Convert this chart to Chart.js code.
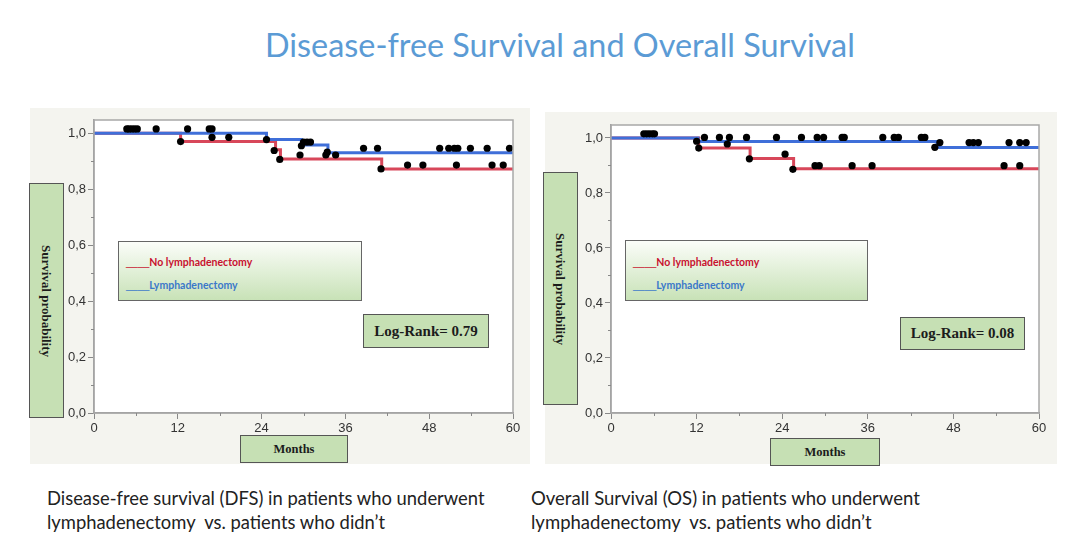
<!DOCTYPE html>
<html>
<head>
<meta charset="utf-8">
<script src="https://cdn.jsdelivr.net/npm/chart.js@4.4.0/dist/chart.umd.min.js"></script>
<style>
body{margin:0;width:1080px;height:549px;background:#fff;position:relative;overflow:hidden;font-family:Lato,"Noto Sans",sans-serif}
.panel{position:absolute;background:#f4f4ef}
.fit{position:absolute;white-space:nowrap;line-height:1}
.green{position:absolute;background:#c6e0b4;border:1px solid #555;box-sizing:border-box;display:flex;align-items:center;justify-content:center;font-family:"Liberation Serif","Times New Roman",serif;font-weight:bold;color:#1c1c1c;font-size:12.5px}
.vlab span{display:block;transform:rotate(90deg);white-space:nowrap;font-size:13px}
.lr{font-size:15px}
.legend{position:absolute;border:1px solid #666;box-sizing:border-box;background:linear-gradient(#fbfdf9,#c8e2b7);font-weight:bold;font-size:10.5px;line-height:1}
.legend div{position:absolute;left:7px;white-space:nowrap}
.legend i{font-style:normal;font-weight:normal;font-family:"Liberation Sans",Arial,sans-serif;font-size:10.5px}
.red{color:#c8102e}
.blue{color:#3b78c9}
.cap{position:absolute;color:#222;font-size:17px;line-height:24px;white-space:nowrap}
</style>
</head>
<body>
<div id="title" class="fit" style="left:265px;top:29px;color:#5b9bd5;font-size:30px">Disease-free Survival and Overall Survival</div>

<div class="panel" style="left:30px;top:108px;width:500px;height:356px"><canvas id="dfs"></canvas></div>
<div class="panel" style="left:545px;top:112px;width:512px;height:352px"><canvas id="os"></canvas></div>

<div class="green vlab" style="left:29px;top:183px;width:35px;height:235px"><span>Survival probability</span></div>
<div class="green vlab" style="left:543px;top:172px;width:35px;height:233px"><span>Survival probability</span></div>
<div class="green" style="left:240px;top:435px;width:108px;height:28px">Months</div>
<div class="green" style="left:770px;top:438px;width:110px;height:28px">Months</div>

<div class="legend" style="left:118px;top:241px;width:244px;height:60px">
  <div class="red" style="top:15px"><i>____</i>No lymphadenectomy</div>
  <div class="blue" style="top:38px"><i>____</i>Lymphadenectomy</div>
</div>
<div class="legend" style="left:625px;top:240px;width:243px;height:61px">
  <div class="red" style="top:16px"><i>____</i>No lymphadenectomy</div>
  <div class="blue" style="top:39px"><i>____</i>Lymphadenectomy</div>
</div>

<div class="green lr" style="left:363px;top:314px;width:126px;height:34px">Log-Rank= 0.79</div>
<div class="green lr" style="left:900px;top:317px;width:125px;height:33px">Log-Rank= 0.08</div>

<div class="cap" style="left:47px;top:486px"><span id="c1">Disease-free survival (DFS) in patients who underwent</span><br>lymphadenectomy&nbsp; vs. patients who didn’t</div>
<div class="cap" style="left:531px;top:486px"><span id="c2">Overall Survival (OS) in patients who underwent</span><br>lymphadenectomy&nbsp; vs. patients who didn’t</div>

<script>
// ticks
const xTicks = [0, 6, 12, 18, 24, 30, 36, 42, 48, 54, 60];
const xLabels = [0, 12, 24, 36, 48, 60];
const yTicks = [0, 0.1, 0.2, 0.3, 0.4, 0.5, 0.6, 0.7, 0.8, 0.9, 1.0];
const yMajor = [0, 0.2, 0.4, 0.6, 0.8, 1.0];
const yLabels = ['0,0', '0,2', '0,4', '0,6', '0,8', '1,0'];

// DFS - step curves (month, survival)
const dfsLymphT = [0, 24.7, 29.7, 33.5, 60];
const dfsLymphS = [1, 0.977, 0.958, 0.930, 0.930];
const dfsNoT = [0, 12.4, 26.0, 26.7, 41.2, 60];
const dfsNoS = [1, 0.970, 0.941, 0.908, 0.872, 0.872];
// DFS - censored patients
const dfsCensT = [4.7, 5.0, 5.4, 5.8, 6.2, 8.9, 13.4, 16.5, 16.9,
  12.4, 16.9, 19.3, 24.7, 25.8, 26.6, 29.5, 29.7, 30.0, 30.5, 31.0, 33.2, 33.4, 34.6,
  38.6, 40.6, 41.1, 44.9, 47.1, 49.5, 50.8, 51.6, 52.1, 51.9, 53.9, 56.3, 57.0, 58.6, 59.5];
const dfsCensS = [1.015, 1.015, 1.015, 1.015, 1.015, 1.015, 1.015, 1.015, 1.015,
  0.970, 0.985, 0.985, 0.977, 0.938, 0.906, 0.922, 0.955, 0.968, 0.968, 0.968, 0.922, 0.932, 0.922,
  0.946, 0.946, 0.872, 0.886, 0.886, 0.946, 0.946, 0.946, 0.946, 0.886, 0.946, 0.946, 0.886, 0.886, 0.946];

// OS - step curves
const osLymphT = [0, 12.2, 45.7, 60];
const osLymphS = [1, 0.987, 0.965, 0.965];
const osNoT = [0, 12.3, 19.5, 25.6, 60];
const osNoS = [1, 0.963, 0.925, 0.888, 0.888];
// OS - censored patients
const osCensT = [4.6, 5.0, 5.4, 5.8, 6.1,
  13.1, 15.2, 16.6, 19.0, 23.2, 26.7, 28.9, 29.8, 32.4, 32.7, 38.1, 39.7, 40.3, 43.5, 44.0,
  46.1, 50.2, 50.8, 51.5, 55.8, 57.3, 58.2,
  12.0, 12.3, 16.3, 19.4, 24.4, 25.5, 28.6, 29.2, 33.8, 36.6, 45.4, 55.1, 57.3];
const osCensS = [1.015, 1.015, 1.015, 1.015, 1.015,
  1.002, 1.002, 1.002, 1.002, 1.002, 1.002, 1.002, 1.002, 1.002, 1.002, 1.002, 1.002, 1.002, 1.002, 1.002,
  0.983, 0.983, 0.983, 0.983, 0.983, 0.983, 0.983,
  0.988, 0.963, 0.978, 0.924, 0.941, 0.886, 0.899, 0.899, 0.899, 0.899, 0.966, 0.899, 0.899];

function pts(t, s) { return t.map((x, i) => ({ x: x, y: s[i] })); }

// white plot area, grey frame and the short minor ticks
const frame = {
  id: 'frame',
  beforeDraw(c) {
    const a = c.chartArea, ctx = c.ctx;
    ctx.save();
    ctx.fillStyle = '#fff';
    ctx.fillRect(a.left, a.top, a.right - a.left, a.bottom - a.top);
    ctx.restore();
  },
  afterDraw(c) {
    const a = c.chartArea, ctx = c.ctx;
    ctx.save();
    ctx.strokeStyle = '#a8a8a8';
    ctx.lineWidth = 1.5;
    ctx.strokeRect(a.left, a.top, a.right - a.left, a.bottom - a.top);
    ctx.strokeStyle = '#888';
    ctx.lineWidth = 1;
    ctx.beginPath();
    yTicks.filter(v => !yMajor.includes(v)).forEach(v => {
      const p = Math.round(c.scales.y.getPixelForValue(v)) + 0.5;
      ctx.moveTo(a.left - 3, p); ctx.lineTo(a.left, p);
    });
    xTicks.filter(v => !xLabels.includes(v)).forEach(v => {
      const p = Math.round(c.scales.x.getPixelForValue(v)) + 0.5;
      ctx.moveTo(p, a.bottom); ctx.lineTo(p, a.bottom + 3);
    });
    ctx.stroke();
    ctx.restore();
  }
};

const tickFont = { family: '"Liberation Sans", Arial, sans-serif', size: 13 };

function km(id, noT, noS, lyT, lyS, cT, cS, g) {
  return new Chart(document.getElementById(id), {
    type: 'scatter',
    data: {
      datasets: [
        { data: pts(cT, cS), pointRadius: 3.6, pointBackgroundColor: '#000', pointBorderWidth: 0, showLine: false, order: 0 },
        { data: pts(lyT, lyS), showLine: true, stepped: true, borderColor: '#3f6fd9', borderWidth: 3, pointRadius: 0, order: 1 },
        { data: pts(noT, noS), showLine: true, stepped: true, borderColor: '#d8475a', borderWidth: 3, pointRadius: 0, order: 2 }
      ]
    },
    options: {
      responsive: true,
      maintainAspectRatio: false,
      animation: false,
      layout: { padding: { top: g.top, right: g.right, left: 0, bottom: 0 } },
      plugins: { legend: { display: false }, tooltip: { enabled: false } },
      scales: {
        x: {
          type: 'linear', min: 0, max: 60,
          afterBuildTicks: s => { s.ticks = xTicks.map(v => ({ value: v })); },
          afterFit: s => { s.height = g.xh; },
          ticks: { autoSkip: false, maxRotation: 0, padding: 2, color: '#333', font: tickFont,
            callback: v => xLabels.includes(v) ? String(v) : '' },
          grid: { drawOnChartArea: false, tickLength: 6, tickWidth: 1,
            tickColor: c => c.tick && xLabels.includes(c.tick.value) ? '#888' : 'rgba(0,0,0,0)' },
          border: { color: '#999', width: 1.5 }
        },
        y: {
          type: 'linear', min: 0, max: 1.047,
          afterBuildTicks: s => { s.ticks = yTicks.map(v => ({ value: v })); },
          afterFit: s => { s.width = g.yw; },
          ticks: { autoSkip: false, padding: 2, color: '#333', font: tickFont,
            callback: v => { const i = yMajor.indexOf(v); return i >= 0 ? yLabels[i] : ''; } },
          grid: { drawOnChartArea: false, tickLength: 6, tickWidth: 1,
            tickColor: c => c.tick && yMajor.includes(c.tick.value) ? '#888' : 'rgba(0,0,0,0)' },
          border: { color: '#999', width: 1.5 }
        }
      }
    },
    plugins: [frame]
  });
}

km('dfs', dfsNoT, dfsNoS, dfsLymphT, dfsLymphS, dfsCensT, dfsCensS, { top: 12, right: 17, yw: 64, xh: 51 });
km('os', osNoT, osNoS, osLymphT, osLymphS, osCensT, osCensS, { top: 13, right: 18, yw: 66, xh: 51 });

// size text to the widths seen in the picture
function fit(el, w) {
  const cur = el.getBoundingClientRect().width;
  const fs = parseFloat(getComputedStyle(el).fontSize);
  el.style.fontSize = (fs * w / cur) + 'px';
}
fit(document.getElementById('title'), 590);
[['c1', 438], ['c2', 389]].forEach(([id, w]) => {
  const el = document.getElementById(id);
  const cur = el.getBoundingClientRect().width;
  const p = el.parentNode;
  p.style.fontSize = (17 * w / cur) + 'px';
});
</script>
</body>
</html>
